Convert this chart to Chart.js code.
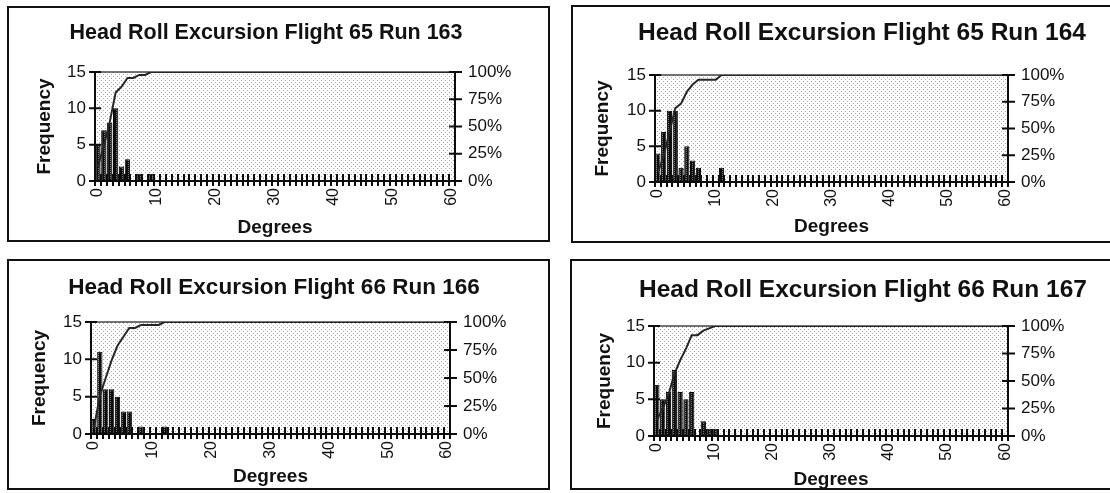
<!DOCTYPE html>
<html>
<head>
<meta charset="utf-8">
<script src="https://cdn.jsdelivr.net/npm/chart.js@4.4.1/dist/chart.umd.min.js"></script>
<style>
  body { margin: 0; background: #fff; width: 1110px; height: 493px; overflow: hidden; position: relative; }
  .box { position: absolute; border: 2px solid #111; box-sizing: border-box; }
  canvas { position: absolute; }
</style>
</head>
<body>
<script>
// bins (degrees) shared by all four histograms
const degrees = [
  0, 1, 2, 3, 4, 5, 6, 7, 8, 9,
  10, 11, 12, 13, 14, 15, 16, 17, 18, 19,
  20, 21, 22, 23, 24, 25, 26, 27, 28, 29,
  30, 31, 32, 33, 34, 35, 36, 37, 38, 39,
  40, 41, 42, 43, 44, 45, 46, 47, 48, 49,
  50, 51, 52, 53, 54, 55, 56, 57, 58, 59,
  60
];
const freqTicks = [0, 5, 10, 15];
const pctTicks = [0, 25, 50, 75, 100];

// Flight 65 Run 163
const freq163 = [
  5, 7, 8, 10, 2, 3, 0, 1, 0, 1,
  0, 0, 0, 0, 0, 0, 0, 0, 0, 0,
  0, 0, 0, 0, 0, 0, 0, 0, 0, 0,
  0, 0, 0, 0, 0, 0, 0, 0, 0, 0,
  0, 0, 0, 0, 0, 0, 0, 0, 0, 0,
  0, 0, 0, 0, 0, 0, 0, 0, 0, 0,
  0
];
const cum163 = [
  13.5, 32.4, 54.1, 81.1, 86.5, 94.6, 94.6, 97.3, 97.3, 100,
  100, 100, 100, 100, 100, 100, 100, 100, 100, 100,
  100, 100, 100, 100, 100, 100, 100, 100, 100, 100,
  100, 100, 100, 100, 100, 100, 100, 100, 100, 100,
  100, 100, 100, 100, 100, 100, 100, 100, 100, 100,
  100, 100, 100, 100, 100, 100, 100, 100, 100, 100,
  100
];

// Flight 65 Run 164
const freq164 = [
  4, 7, 10, 10, 2, 5, 3, 2, 0, 0,
  0, 2, 0, 0, 0, 0, 0, 0, 0, 0,
  0, 0, 0, 0, 0, 0, 0, 0, 0, 0,
  0, 0, 0, 0, 0, 0, 0, 0, 0, 0,
  0, 0, 0, 0, 0, 0, 0, 0, 0, 0,
  0, 0, 0, 0, 0, 0, 0, 0, 0, 0,
  0
];
const cum164 = [
  8.9, 24.4, 46.7, 68.9, 73.3, 84.4, 91.1, 95.6, 95.6, 95.6,
  95.6, 100, 100, 100, 100, 100, 100, 100, 100, 100,
  100, 100, 100, 100, 100, 100, 100, 100, 100, 100,
  100, 100, 100, 100, 100, 100, 100, 100, 100, 100,
  100, 100, 100, 100, 100, 100, 100, 100, 100, 100,
  100, 100, 100, 100, 100, 100, 100, 100, 100, 100,
  100
];

// Flight 66 Run 166
const freq166 = [
  2, 11, 6, 6, 5, 3, 3, 0, 1, 0,
  0, 0, 1, 0, 0, 0, 0, 0, 0, 0,
  0, 0, 0, 0, 0, 0, 0, 0, 0, 0,
  0, 0, 0, 0, 0, 0, 0, 0, 0, 0,
  0, 0, 0, 0, 0, 0, 0, 0, 0, 0,
  0, 0, 0, 0, 0, 0, 0, 0, 0, 0,
  0
];
const cum166 = [
  5.3, 34.2, 50, 65.8, 78.9, 86.8, 94.7, 94.7, 97.4, 97.4,
  97.4, 97.4, 100, 100, 100, 100, 100, 100, 100, 100,
  100, 100, 100, 100, 100, 100, 100, 100, 100, 100,
  100, 100, 100, 100, 100, 100, 100, 100, 100, 100,
  100, 100, 100, 100, 100, 100, 100, 100, 100, 100,
  100, 100, 100, 100, 100, 100, 100, 100, 100, 100,
  100
];

// Flight 66 Run 167
const freq167 = [
  7, 5, 6, 9, 6, 5, 6, 0, 2, 1,
  1, 0, 0, 0, 0, 0, 0, 0, 0, 0,
  0, 0, 0, 0, 0, 0, 0, 0, 0, 0,
  0, 0, 0, 0, 0, 0, 0, 0, 0, 0,
  0, 0, 0, 0, 0, 0, 0, 0, 0, 0,
  0, 0, 0, 0, 0, 0, 0, 0, 0, 0,
  0
];
const cum167 = [
  14.6, 25, 37.5, 56.3, 68.8, 79.2, 91.7, 91.7, 95.8, 97.9,
  100, 100, 100, 100, 100, 100, 100, 100, 100, 100,
  100, 100, 100, 100, 100, 100, 100, 100, 100, 100,
  100, 100, 100, 100, 100, 100, 100, 100, 100, 100,
  100, 100, 100, 100, 100, 100, 100, 100, 100, 100,
  100, 100, 100, 100, 100, 100, 100, 100, 100, 100,
  100
];

const FONT = '"Liberation Sans", Arial, sans-serif';
const AXIS_TITLE_SIZE = 19;
const TICK_SIZE = 16;

// page layout of each framed chart: box = [x, y, w, h], plot = [left, top, right, bottom]
const panels = [
  { title: 'Head Roll Excursion Flight 65 Run 163', freq: freq163, cum: cum163, titleSize: 21.5,
    box: [7, 6, 543, 236], plot: [95, 72, 455, 181], titleX: 266, titleY: 33, freqX: 45, degY: 228 },
  { title: 'Head Roll Excursion Flight 65 Run 164', freq: freq164, cum: cum164, titleSize: 24.5,
    box: [571, 5, 584, 238], plot: [655, 75, 1008, 182], titleX: 862, titleY: 33, freqX: 603, degY: 227 },
  { title: 'Head Roll Excursion Flight 66 Run 166', freq: freq166, cum: cum166, titleSize: 22.5,
    box: [7, 259, 543, 231], plot: [91, 322, 450, 434], titleX: 274, titleY: 288, freqX: 40, degY: 477 },
  { title: 'Head Roll Excursion Flight 66 Run 167', freq: freq167, cum: cum167, titleSize: 24.5,
    box: [570, 259, 586, 231], plot: [654, 326, 1008, 436], titleX: 863, titleY: 290, freqX: 605, degY: 480 },
];

function makeTile(w, h, bg, fg, dots) {
  const c = document.createElement('canvas');
  c.width = w;
  c.height = h;
  const g = c.getContext('2d');
  g.fillStyle = bg;
  g.fillRect(0, 0, w, h);
  g.fillStyle = fg;
  dots.forEach(([x, y]) => g.fillRect(x, y, 1, 1));
  return c;
}

const plotTile = makeTile(4, 4, '#ffffff', '#a8a8a8', [[0, 0], [2, 2]]);
const barTile = makeTile(3, 2, '#0c0c0c', '#7a7a7a', [[1, 0]]);

// plot area stipple, axis lines and Excel-style crossing tick marks
const excelAxes = {
  id: 'excelAxes',
  beforeDatasetsDraw(chart) {
    const { ctx, chartArea: a } = chart;
    ctx.save();
    ctx.fillStyle = ctx.createPattern(plotTile, 'repeat');
    ctx.fillRect(a.left, a.top, a.right - a.left, a.bottom - a.top);
    ctx.strokeStyle = '#444';
    ctx.lineWidth = 1.5;
    ctx.beginPath();
    ctx.moveTo(a.left, a.top);
    ctx.lineTo(a.right, a.top);
    ctx.stroke();
    ctx.restore();
  },
  afterDatasetsDraw(chart) {
    const { ctx, chartArea: a, scales } = chart;
    ctx.save();
    ctx.strokeStyle = '#0c0c0c';
    ctx.lineWidth = 2;
    ctx.beginPath();
    ctx.moveTo(a.left, a.top);
    ctx.lineTo(a.left, a.bottom);
    ctx.lineTo(a.right, a.bottom);
    ctx.lineTo(a.right, a.top);
    ctx.stroke();

    const x = scales.x;
    const step = x.getPixelForValue(1) - x.getPixelForValue(0);
    ctx.beginPath();
    for (let i = 0; i <= degrees.length; i++) {
      const px = Math.round(x.getPixelForValue(0) - step / 2 + i * step);
      ctx.moveTo(px, a.bottom - 7);
      ctx.lineTo(px, a.bottom + 5);
    }
    ctx.stroke();

    ctx.beginPath();
    freqTicks.forEach((v) => {
      const py = scales.y.getPixelForValue(v);
      ctx.moveTo(a.left - 6, py);
      ctx.lineTo(a.left + 6, py);
    });
    pctTicks.forEach((v) => {
      const py = scales.y2.getPixelForValue(v);
      ctx.moveTo(a.right - 6, py);
      ctx.lineTo(a.right + 7, py);
    });
    ctx.stroke();
    ctx.restore();
  },
};

function renderPanel(p) {
  const [bx, by, bw, bh] = p.box;
  const [pl, pt, pr, pb] = p.plot;

  const canvas = document.createElement('canvas');
  canvas.width = bw;
  canvas.height = bh;
  canvas.style.left = bx + 'px';
  canvas.style.top = by + 'px';
  canvas.style.width = bw + 'px';
  canvas.style.height = bh + 'px';
  document.body.appendChild(canvas);

  const frame = document.createElement('div');
  frame.className = 'box';
  Object.assign(frame.style, { left: bx + 'px', top: by + 'px', width: bw + 'px', height: bh + 'px' });
  document.body.appendChild(frame);

  // shift the centred chart title with unequal side padding
  const shift = 2 * (p.titleX - bx) - bw;
  const padLeft = Math.max(0, shift);
  const padRight = Math.max(0, -shift);
  const axisLh = AXIS_TITLE_SIZE * 1.2;
  const titleLh = p.titleSize * 1.2;
  const padBottom = by + bh - p.degY - axisLh / 2;
  const titleTop = p.titleY - by - titleLh / 2;
  const titleBottom = pt - by - titleTop - titleLh;

  new Chart(canvas, {
    type: 'bar',
    data: {
      labels: degrees,
      datasets: [
        {
          type: 'line',
          data: p.cum,
          yAxisID: 'y2',
          borderColor: '#262626',
          borderWidth: 2,
          pointRadius: 0,
          tension: 0,
          order: 0,
        },
        {
          type: 'bar',
          data: p.freq,
          yAxisID: 'y',
          backgroundColor: canvas.getContext('2d').createPattern(barTile, 'repeat'),
          borderColor: '#000',
          borderWidth: 1,
          barPercentage: 0.9,
          categoryPercentage: 1,
          order: 1,
        },
      ],
    },
    options: {
      responsive: false,
      animation: false,
      devicePixelRatio: 1,
      layout: { padding: { left: padLeft, right: padRight, top: 0, bottom: padBottom } },
      plugins: {
        legend: { display: false },
        tooltip: { enabled: false },
        title: {
          display: true,
          text: p.title,
          color: '#111',
          font: { family: FONT, size: p.titleSize, weight: 'bold' },
          padding: { top: titleTop, bottom: titleBottom },
        },
      },
      scales: {
        x: {
          offset: true,
          grid: { display: false, drawTicks: false },
          border: { display: false },
          ticks: {
            autoSkip: false,
            minRotation: 90,
            maxRotation: 90,
            padding: 7,
            color: '#111',
            font: { family: FONT, size: TICK_SIZE },
            callback: (v, i) => (i % 10 === 0 ? String(degrees[i]) : ''),
          },
          title: {
            display: true,
            text: 'Degrees',
            color: '#111',
            padding: 0,
            font: { family: FONT, size: AXIS_TITLE_SIZE, weight: 'bold' },
          },
          afterFit: (s) => { s.height = by + bh - pb - padBottom; },
        },
        y: {
          position: 'left',
          min: 0,
          max: 15,
          grid: { display: false, drawTicks: false },
          border: { display: false },
          ticks: {
            stepSize: 5,
            padding: 9,
            color: '#111',
            font: { family: FONT, size: TICK_SIZE + 1 },
          },
          title: {
            display: true,
            text: 'Frequency',
            color: '#111',
            padding: { top: p.freqX - bx - axisLh / 2 - padLeft, bottom: 0 },
            font: { family: FONT, size: AXIS_TITLE_SIZE, weight: 'bold' },
          },
          afterFit: (s) => { s.width = pl - bx - padLeft; },
        },
        y2: {
          position: 'right',
          min: 0,
          max: 100,
          grid: { display: false, drawTicks: false },
          border: { display: false },
          ticks: {
            stepSize: 25,
            padding: 13,
            color: '#111',
            font: { family: FONT, size: TICK_SIZE + 1 },
            callback: (v) => v + '%',
          },
          afterFit: (s) => { s.width = bx + bw - pr - padRight; },
        },
      },
    },
    plugins: [excelAxes],
  });
}

panels.forEach(renderPanel);
</script>
</body>
</html>
